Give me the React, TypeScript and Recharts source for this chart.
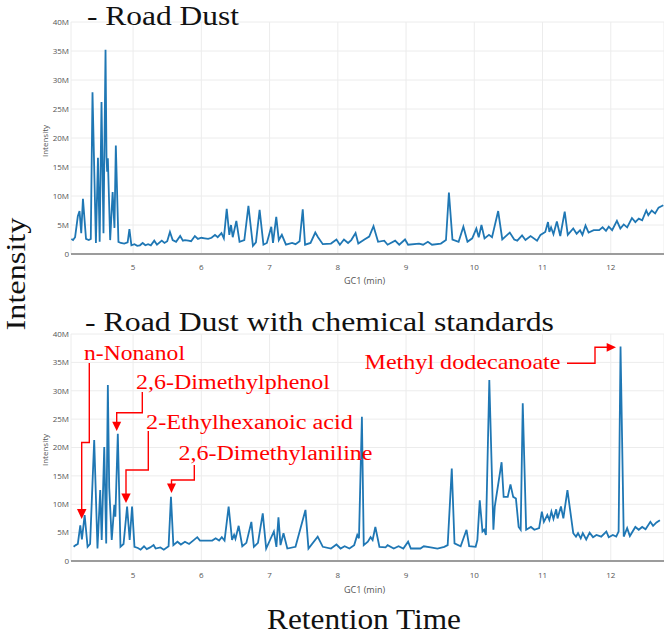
import React from "react";
import { LineChart, Line, XAxis, YAxis, CartesianGrid } from "recharts";

// Retention time (min) and intensity (millions) — Road Dust
const TOP_TIME = [
  4.095, 4.12, 4.15, 4.19, 4.215, 4.24, 4.265, 4.31, 4.35, 4.38, 4.405, 4.455, 4.485, 4.51, 4.537, 4.566,
  4.596, 4.61, 4.62, 4.63, 4.664, 4.7, 4.727, 4.747, 4.785, 4.82, 4.87, 4.92, 4.946, 4.975, 5.02, 5.06,
  5.1, 5.14, 5.18, 5.22, 5.26, 5.31, 5.35, 5.42, 5.46, 5.5, 5.54, 5.58, 5.63, 5.69, 5.73, 5.76, 5.81,
  5.85, 5.905, 5.95, 6.0, 6.05, 6.1, 6.15, 6.2, 6.24, 6.295, 6.33, 6.372, 6.41, 6.435, 6.46, 6.513, 6.56,
  6.63, 6.69, 6.756, 6.8, 6.854, 6.91, 6.96, 7.025, 7.05, 7.098, 7.135, 7.18, 7.24, 7.33, 7.38, 7.44,
  7.486, 7.52, 7.6, 7.67, 7.71, 7.78, 7.9, 7.98, 8.03, 8.09, 8.15, 8.197, 8.26, 8.3, 8.39, 8.46, 8.523,
  8.59, 8.68, 8.73, 8.84, 8.9, 8.985, 9.03, 9.19, 9.25, 9.32, 9.38, 9.51, 9.585, 9.628, 9.68, 9.77, 9.84,
  9.9, 9.97, 10.03, 10.065, 10.105, 10.15, 10.215, 10.26, 10.35, 10.41, 10.52, 10.585, 10.63, 10.7, 10.75,
  10.825, 10.92, 10.97, 11.04, 11.08, 11.1, 11.125, 11.16, 11.21, 11.26, 11.325, 11.37, 11.45, 11.5,
  11.55, 11.585, 11.63, 11.675, 11.75, 11.83, 11.88, 11.93, 11.97, 12.02, 12.09, 12.14, 12.19, 12.24,
  12.31, 12.36, 12.41, 12.46, 12.52, 12.55, 12.6, 12.65, 12.7, 12.77,
];
const TOP_INTENSITY = [
  2.6, 2.4, 2.9, 6.5, 7.4, 3.6, 9.5, 2.6, 2.4, 2.6, 27.9, 1.9, 16.6, 2.1, 26.2, 3.6,
  35.2, 16.8, 14.2, 16.5, 2.4, 10.7, 4.5, 18.7, 2.1, 1.9, 1.8, 2.0, 4.3, 1.5, 1.7, 1.4,
  1.5, 1.9, 1.5, 1.7, 1.5, 2.3, 1.6, 2.3, 1.9, 2.2, 3.8, 2.4, 2.1, 3.1, 2.3, 2.4, 2.3,
  2.2, 3.1, 2.6, 2.8, 2.7, 2.6, 2.8, 3.3, 2.9, 3.6, 2.7, 7.8, 3.3, 5.0, 2.9, 5.7, 2.1,
  2.4, 8.3, 1.4, 2.0, 7.6, 1.6, 1.9, 4.7, 1.9, 6.4, 2.4, 3.3, 1.6, 1.9, 1.7, 2.2,
  7.7, 1.6, 1.9, 3.7, 2.9, 1.7, 1.8, 2.5, 1.6, 2.5, 1.9, 2.4, 3.6, 1.8, 2.5, 3.0, 4.8,
  2.1, 2.3, 1.6, 2.3, 1.6, 2.5, 1.6, 1.8, 1.6, 2.1, 1.6, 1.8, 2.4, 10.6, 2.5, 2.1, 4.7,
  2.1, 2.7, 4.4, 2.9, 5.0, 2.7, 3.3, 2.9, 7.4, 2.5, 3.7, 2.5, 2.3, 3.2, 2.4,
  3.1, 2.3, 3.3, 3.8, 5.5, 3.8, 4.6, 3.4, 5.6, 3.1, 7.3, 3.3, 4.4, 3.5,
  4.1, 3.3, 4.9, 3.7, 4.1, 4.1, 4.6, 4.0, 4.7, 4.1, 5.7, 4.4, 5.1, 4.6,
  6.2, 5.5, 6.1, 5.8, 7.5, 6.7, 7.5, 7.0, 8.0, 8.4,
];

// Road Dust with chemical standards
const BOTTOM_TIME = [
  4.128, 4.16, 4.19, 4.226, 4.25, 4.29, 4.333, 4.37, 4.397, 4.43, 4.478, 4.518, 4.54, 4.577, 4.606, 4.63,
  4.65, 4.687, 4.725, 4.74, 4.776, 4.815, 4.86, 4.912, 4.95, 4.985, 5.02, 5.07, 5.11, 5.16, 5.2, 5.25,
  5.3, 5.33, 5.4, 5.45, 5.52, 5.555, 5.59, 5.65, 5.7, 5.76, 5.82, 5.88, 5.94, 5.98, 6.05, 6.1, 6.16,
  6.21, 6.26, 6.3, 6.34, 6.4, 6.45, 6.48, 6.5, 6.547, 6.6, 6.66, 6.733, 6.77, 6.83, 6.9, 6.95, 7.063,
  7.1, 7.13, 7.16, 7.204, 7.26, 7.38, 7.526, 7.57, 7.705, 7.78, 7.9, 7.98, 8.04, 8.1, 8.17, 8.24, 8.285,
  8.31, 8.353, 8.38, 8.44, 8.48, 8.51, 8.55, 8.61, 8.7, 8.73, 8.82, 8.89, 8.96, 9.03, 9.07, 9.21, 9.26,
  9.36, 9.46, 9.56, 9.61, 9.67, 9.71, 9.8, 9.886, 9.925, 10.02, 10.045, 10.08, 10.12, 10.145, 10.17,
  10.22, 10.28, 10.3, 10.4, 10.43, 10.49, 10.53, 10.57, 10.61, 10.65, 10.68, 10.71, 10.76, 10.83, 10.88,
  10.95, 10.99, 11.02, 11.07, 11.1, 11.13, 11.16, 11.2, 11.22, 11.27, 11.305, 11.365, 11.45, 11.49,
  11.52, 11.56, 11.59, 11.64, 11.69, 11.74, 11.79, 11.86, 11.935, 11.97, 12.03, 12.08, 12.115, 12.143,
  12.19, 12.24, 12.28, 12.36, 12.41, 12.46, 12.51, 12.58, 12.62, 12.67, 12.72,
];
const BOTTOM_INTENSITY = [
  2.5, 2.8, 3.0, 6.3, 3.8, 8.1, 2.5, 3.0, 11.3, 21.3, 2.2, 12.5, 3.7, 20.1, 3.1, 31.0,
  12.9, 3.7, 9.9, 7.8, 22.4, 2.5, 3.0, 9.6, 3.7, 9.6, 2.5, 2.3, 2.0, 2.6, 2.1, 2.4,
  2.8, 2.2, 2.4, 2.0, 2.6, 11.3, 2.8, 3.4, 2.9, 3.4, 3.0, 3.6, 4.2, 3.6, 3.6, 3.6, 3.6,
  4.0, 3.6, 4.2, 3.6, 9.6, 3.7, 4.6, 3.9, 6.2, 2.6, 3.2, 6.9, 2.5, 3.2, 8.4, 2.2, 5.2,
  2.5, 7.7, 2.8, 4.9, 2.2, 2.5, 9.0, 2.2, 4.3, 2.5, 2.2, 2.9, 2.2, 2.6, 2.2, 2.8, 4.6,
  4.0, 25.4, 2.8, 3.4, 4.2, 3.7, 6.0, 2.5, 2.4, 2.8, 2.2, 2.6, 2.2, 3.4, 2.2, 2.2, 2.6,
  2.4, 2.2, 2.5, 2.8, 16.3, 3.1, 2.6, 5.5, 2.6, 2.5, 3.7, 10.7, 5.2, 5.5, 4.6,
  31.9, 5.5, 9.6, 17.4, 11.3, 11.3, 13.5, 11.3, 11.0, 6.0, 5.5, 27.8, 5.5, 6.0, 5.5,
  5.8, 8.7, 6.9, 8.1, 7.2, 8.7, 7.4, 9.1, 7.5, 9.6, 7.5, 12.5, 4.9, 4.3,
  4.9, 4.0, 4.9, 3.8, 5.0, 4.2, 4.6, 4.3, 5.2, 4.2, 4.6, 4.3, 5.2, 37.8,
  4.3, 5.8, 4.4, 6.0, 5.5, 6.0, 5.6, 6.9, 6.2, 6.8, 7.2,
];

const X_TICKS = [5, 6, 7, 8, 9, 10, 11, 12];
const Y_TICKS = [0, 5, 10, 15, 20, 25, 30, 35, 40];

const TITLES = ["- Road Dust", "- Road Dust with chemical standards"];
const ANNOTATIONS = ["n-Nonanol", "2,6-Dimethylphenol", "2-Ethylhexanoic  acid", "2,6-Dimethylaniline", "Methyl dodecanoate"];

const toRows = (t: number[], v: number[]) => t.map((x, i) => ({ t: x, v: v[i] }));

const SERIF = "'Liberation Serif', 'Times New Roman', serif";
const SANS = "'Open Sans', 'DejaVu Sans', sans-serif";
const RED = "#ff0000";

function Chromatogram({ data, top, marginTop, marginBottom, tickGap }: any) {
  return (
    <div style={{ position: "absolute", left: 0, top, width: 664, height: 300 }}>
      <LineChart width={664} height={300} data={data} margin={{ top: marginTop, right: 0, bottom: marginBottom, left: 41 }}>
        <CartesianGrid stroke="#ececec" strokeWidth={1} />
        <XAxis
          dataKey="t"
          type="number"
          domain={[4.09, 12.78]}
          ticks={X_TICKS}
          allowDataOverflow
          height={30}
          tickLine={false}
          tickSize={0}
          tickMargin={tickGap}
          axisLine={{ stroke: "#9c9c9c", strokeWidth: 2 }}
          tick={{ fontSize: 8, fill: "#555", fontFamily: SANS }}
        />
        <YAxis
          type="number"
          domain={[0, 40]}
          ticks={Y_TICKS}
          width={30}
          axisLine={false}
          tickLine={false}
          tickSize={0}
          tickMargin={2}
          tickFormatter={(v: number) => (v === 0 ? "0" : `${v}M`)}
          tick={{ fontSize: 8, fill: "#555", fontFamily: SANS }}
        />
        <Line type="linear" dataKey="v" stroke="#1f77b4" strokeWidth={1.8} dot={false} isAnimationActive={false} />
      </LineChart>
    </div>
  );
}

function Arrow({ points, tip }: { points: string; tip: string }) {
  return (
    <g>
      <polyline points={points} fill="none" stroke={RED} strokeWidth={1.4} />
      <polygon points={tip} fill={RED} />
    </g>
  );
}

export default function App() {
  const topRows = toRows(TOP_TIME, TOP_INTENSITY);
  const bottomRows = toRows(BOTTOM_TIME, BOTTOM_INTENSITY);
  return (
    <div style={{ position: "absolute", left: 0, top: 0, width: 664, height: 634, background: "#fff", overflow: "hidden" }}>
      <Chromatogram data={topRows} top={0} marginTop={22} marginBottom={16} tickGap={10} />
      <Chromatogram data={bottomRows} top={300} marginTop={34} marginBottom={9} tickGap={11} />
      <svg width={664} height={634} style={{ position: "absolute", left: 0, top: 0, pointerEvents: "none" }}>
        {/* titles */}
        <text x={87} y={25} fontFamily={SERIF} fontSize={28} fill="#111" textLength={152} lengthAdjust="spacingAndGlyphs">
          {TITLES[0]}
        </text>
        <text x={85} y={331} fontFamily={SERIF} fontSize={28} fill="#111" textLength={469} lengthAdjust="spacingAndGlyphs">
          {TITLES[1]}
        </text>
        <text
          transform="translate(25,274) rotate(-90)"
          textAnchor="middle"
          fontFamily={SERIF}
          fontSize={27}
          fill="#111"
          textLength={113}
          lengthAdjust="spacingAndGlyphs"
        >
          Intensity
        </text>
        <text x={364} y={629} textAnchor="middle" fontFamily={SERIF} fontSize={29} fill="#111" textLength={194} lengthAdjust="spacingAndGlyphs">
          Retention Time
        </text>
        {/* small axis titles */}
        <text transform="translate(48,141) rotate(-90)" textAnchor="middle" fontFamily={SANS} fontSize={8} fill="#555">
          Intensity
        </text>
        <text transform="translate(48,450) rotate(-90)" textAnchor="middle" fontFamily={SANS} fontSize={8} fill="#555">
          Intensity
        </text>
        <text x={344} y={284} fontFamily={SANS} fontSize={9} fill="#555">GC1 (min)</text>
        <text x={344} y={593} fontFamily={SANS} fontSize={9} fill="#555">GC1 (min)</text>
        {/* annotations */}
        <text x={84} y={359.5} fontFamily={SERIF} fontSize={20} fill={RED} textLength={101} lengthAdjust="spacingAndGlyphs">
          {ANNOTATIONS[0]}
        </text>
        <text x={136} y={388.5} fontFamily={SERIF} fontSize={20} fill={RED} textLength={194} lengthAdjust="spacingAndGlyphs">
          {ANNOTATIONS[1]}
        </text>
        <text x={146} y={428.5} fontFamily={SERIF} fontSize={20} fill={RED} textLength={207} lengthAdjust="spacingAndGlyphs">
          {ANNOTATIONS[2]}
        </text>
        <text x={178.5} y={460} fontFamily={SERIF} fontSize={20} fill={RED} textLength={194} lengthAdjust="spacingAndGlyphs">
          {ANNOTATIONS[3]}
        </text>
        <text x={364.5} y={368.5} fontFamily={SERIF} fontSize={21} fill={RED} textLength={196} lengthAdjust="spacingAndGlyphs">
          {ANNOTATIONS[4]}
        </text>
        <Arrow points="89.3,363 89.3,442.5 81.7,442.5 81.7,510" tip="77,509 86.5,509 81.7,519" />
        <Arrow points="142.3,392 142.3,412.7 116.7,412.7 116.7,422" tip="112.2,421.7 121.2,421.7 116.7,431" />
        <Arrow points="148.3,431 148.3,470 126,470 126,494" tip="121.3,493.5 130.7,493.5 126,503" />
        <Arrow points="194.3,465 194.3,480 171.5,480 171.5,484" tip="167,483.5 176,483.5 171.5,493" />
        <Arrow points="567,363.3 595,363.3 595,347.3 607,347.3" tip="606.7,343 606.7,351.7 616,347.3" />
      </svg>
    </div>
  );
}
